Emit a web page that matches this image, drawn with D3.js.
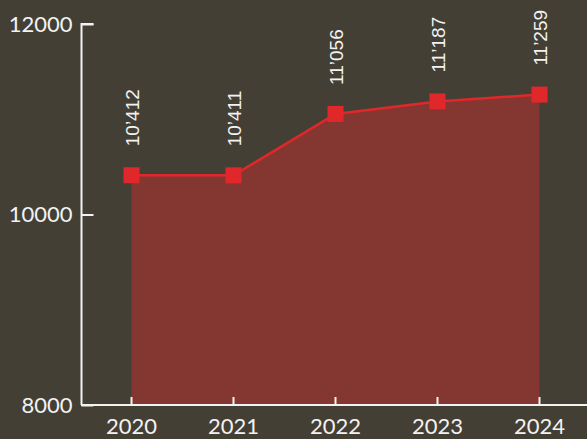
<!DOCTYPE html>
<html>
<head>
<meta charset="utf-8">
<script src="https://cdn.jsdelivr.net/npm/d3@7"></script>
<style>
  html, body { margin: 0; padding: 0; background: #433f35; }
  svg { display: block; }
  text { font-family: Lato, "Open Sans", sans-serif; fill: #f2f2f2; }
</style>
</head>
<body>
<svg id="chart"></svg>
<script>
// data
const years = ["2020", "2021", "2022", "2023", "2024"]
const values = [10412, 10411, 11056, 11187, 11259]
const labels = ["10’412", "10’411", "11’056", "11’187", "11’259"]
const yTicks = [8000, 10000, 12000]

const WIDTH = 587
const HEIGHT = 439
const AXIS_COLOR = "#f2f2f2"
const LINE_COLOR = "#e0282a"
const AREA_COLOR = "#843631"

const svg = d3.select("#chart").attr("width", WIDTH).attr("height", HEIGHT)

const x = d3.scalePoint().domain(years).range([131.5, 539.5])
const y = d3.scaleLinear().domain([8000, 12000]).range([405, 24])

const data = years.map((yr, i) => ({ year: yr, value: values[i], label: labels[i] }))

// area under the line
const area = d3.area()
  .x(d => x(d.year))
  .y0(y(8000))
  .y1(d => y(d.value))

svg.append("path")
  .datum(data)
  .attr("fill", AREA_COLOR)
  .attr("d", area)

// x axis: line to right edge, ticks pointing up
const xAxis = svg.append("g").attr("transform", `translate(0,${y(8000)})`)
xAxis.append("line")
  .attr("x1", 81).attr("x2", WIDTH)
  .attr("stroke", AXIS_COLOR).attr("stroke-width", 2)
xAxis.selectAll(".tick")
  .data(years)
  .enter().append("line")
  .attr("x1", d => x(d)).attr("x2", d => x(d))
  .attr("y1", 0).attr("y2", -8)
  .attr("stroke", AXIS_COLOR).attr("stroke-width", 2)
xAxis.selectAll(".lbl")
  .data(years)
  .enter().append("text")
  .attr("x", d => x(d))
  .attr("y", 29)
  .attr("text-anchor", "middle")
  .attr("font-size", 22)
  .text(d => d)

// y axis: ticks pointing inward
const yAxis = d3.axisRight(y)
  .tickValues(yTicks)
  .tickSize(12)
  .tickFormat(d => d)
const gy = svg.append("g").attr("transform", "translate(81.5,0)").call(yAxis)
gy.select(".domain").attr("stroke", AXIS_COLOR).attr("stroke-width", 2)
  .attr("d", `M12,${y(12000)}H0V${y(8000)}`)
gy.selectAll(".tick line").attr("stroke", AXIS_COLOR).attr("stroke-width", 2)
gy.selectAll(".tick text")
  .attr("x", -9)
  .attr("text-anchor", "end")
  .attr("font-size", 22)
  .attr("fill", AXIS_COLOR)
  .style("font-family", "Lato, 'Open Sans', sans-serif")

// line + markers
const line = d3.line().x(d => x(d.year)).y(d => y(d.value))
svg.append("path")
  .datum(data)
  .attr("fill", "none")
  .attr("stroke", LINE_COLOR)
  .attr("stroke-width", 2.5)
  .attr("d", line)

svg.selectAll(".marker")
  .data(data)
  .enter().append("rect")
  .attr("x", d => x(d.year) - 8)
  .attr("y", d => y(d.value) - 8)
  .attr("width", 16)
  .attr("height", 16)
  .attr("fill", LINE_COLOR)

// rotated value labels
svg.selectAll(".val")
  .data(data)
  .enter().append("text")
  .attr("transform", d => `translate(${x(d.year) + 7},${y(d.value) - 29}) rotate(-90)`)
  .attr("text-anchor", "start")
  .attr("font-size", 19)
  .style("font-family", "'Liberation Sans', Arial, sans-serif")
  .text(d => d.label)
</script>
</body>
</html>
